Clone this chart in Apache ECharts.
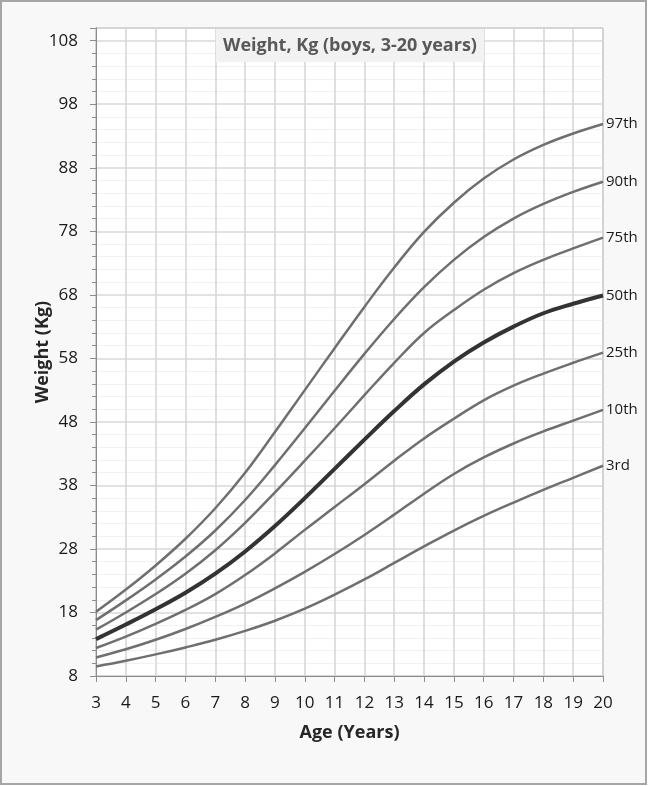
<!DOCTYPE html>
<html>
<head>
<meta charset="utf-8">
<script src="https://cdn.jsdelivr.net/npm/echarts@6/dist/echarts.min.js"></script>
<style>
html,body{margin:0;padding:0;background:#ffffff;}
#chart{width:653px;height:786px;}
</style>
</head>
<body>
<div id="chart"></div>
<script>
var ages = [3,4,5,6,7,8,9,10,11,12,13,14,15,16,17,18,19,20];
var p97 = [18.1,21.6,25.4,29.6,34.4,40.0,46.4,53.0,59.6,66.1,72.3,77.9,82.5,86.3,89.3,91.6,93.4,94.9];
var p90 = [16.8,19.9,23.2,26.8,30.9,35.7,41.2,47.0,52.9,58.7,64.2,69.2,73.5,77.1,80.0,82.3,84.2,85.8];
var p75 = [15.3,18.0,20.9,24.1,27.8,32.1,36.9,41.9,47.0,52.2,57.3,62.0,65.6,68.8,71.4,73.5,75.3,77.0];
var p50 = [13.8,16.1,18.5,21.1,24.1,27.6,31.6,36.0,40.6,45.2,49.7,53.9,57.5,60.5,63.0,65.1,66.6,67.9];
var p25 = [12.4,14.2,16.2,18.4,20.9,23.9,27.3,31.0,34.6,38.2,41.9,45.4,48.5,51.4,53.7,55.6,57.3,58.9];
var p10 = [10.9,12.2,13.7,15.4,17.3,19.4,21.8,24.4,27.2,30.2,33.4,36.7,39.8,42.4,44.6,46.5,48.2,49.9];
var p3  = [9.5,10.4,11.4,12.5,13.7,15.1,16.7,18.6,20.8,23.2,25.8,28.4,30.9,33.2,35.3,37.3,39.2,41.1];
var seriesNames = ['97th','90th','75th','50th','25th','10th','3rd'];
var seriesValues = [p97,p90,p75,p50,p25,p10,p3];
var titleText = 'Weight, Kg (boys, 3-20 years)';
var xName = 'Age (Years)';
var yName = 'Weight (Kg)';

var FONT = '"Open Sans", "Noto Sans", sans-serif';
var chart = echarts.init(document.getElementById('chart'), null, {renderer:'canvas'});

var series = seriesNames.map(function(name, i){
  var isMedian = name === '50th';
  return {
    name: name,
    type: 'line',
    smooth: 0.4,
    symbol: 'none',
    data: ages.map(function(a, j){ return [a, seriesValues[i][j]]; }),
    lineStyle: {color: isMedian ? '#333333' : '#6f6f6f', width: isMedian ? 4 : 2.5},
    z: isMedian ? 4 : 3,
    endLabel: {
      show: true,
      formatter: '{a}',
      distance: 3,
      color: '#1a1a1a',
      fontFamily: FONT,
      fontSize: 15
    }
  };
});

chart.setOption({
  backgroundColor: '#ffffff',
  animation: false,
  graphic: [
    {type:'rect', z:-10, shape:{x:1,y:1,width:645,height:783}, style:{fill:'#f8f8f8', stroke:'#a6a6a6', lineWidth:2}},
    {type:'rect', z:100, shape:{x:216,y:29,width:268,height:33}, style:{fill:'#f2f2f2', stroke:null}},
    {type:'text', z:101, x:350, y:46, style:{text:titleText, fill:'#595959', font:'bold 18px ' + FONT, textAlign:'center', textVerticalAlign:'middle'}}
  ],
  grid: {left:96, right:50, top:28, bottom:110, show:true, backgroundColor:'#ffffff', borderColor:'#9a9a9a', borderWidth:1},
  xAxis: {
    type:'value', min:3, max:20, interval:1,
    name: xName, nameLocation:'middle', nameGap:48, nameMoveOverlap:false,
    nameTextStyle:{fontFamily:FONT, fontSize:18, fontWeight:'bold', color:'#262626'},
    axisLine:{show:true, lineStyle:{color:'#8c8c8c', width:1}},
    axisTick:{show:true, length:6, lineStyle:{color:'#8c8c8c'}},
    axisLabel:{fontFamily:FONT, fontSize:17, color:'#1a1a1a', margin:19},
    splitLine:{show:true, lineStyle:{color:'#d4d4d4', width:1.5}}
  },
  yAxis: {
    type:'value', min:8, max:110, interval:10,
    name: yName, nameLocation:'middle', nameGap:44, nameRotate:90, nameMoveOverlap:false,
    nameTextStyle:{fontFamily:FONT, fontSize:18, fontWeight:'bold', color:'#262626'},
    axisLine:{show:true, lineStyle:{color:'#8c8c8c', width:1}},
    axisTick:{show:true, length:6, lineStyle:{color:'#8c8c8c'}},
    minorTick:{show:true, splitNumber:5, length:4, lineStyle:{color:'#8c8c8c'}},
    minorSplitLine:{show:true, lineStyle:{color:'#f1f1f1', width:1}},
    axisLabel:{fontFamily:FONT, fontSize:17, color:'#1a1a1a', margin:18, showMaxLabel:false},
    splitLine:{show:true, lineStyle:{color:'#d9d9d9', width:1.5}}
  },
  series: series
});
</script>
</body>
</html>
